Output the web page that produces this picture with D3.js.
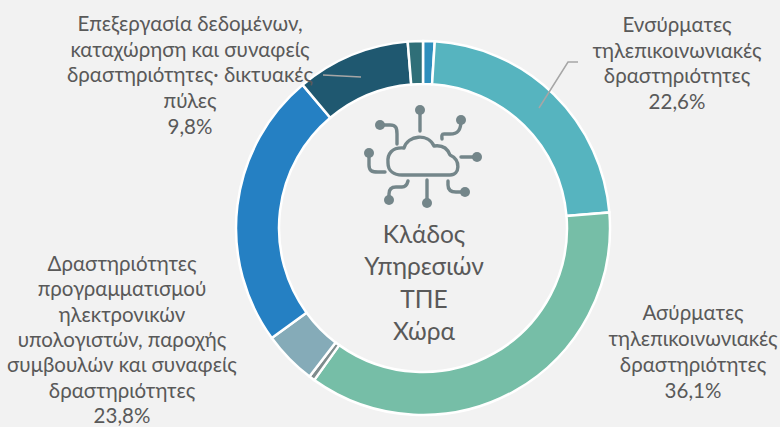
<!DOCTYPE html>
<html>
<head>
<meta charset="utf-8">
<script src="https://cdn.jsdelivr.net/npm/d3@7"></script>
<style>
  html, body { margin: 0; padding: 0; background: #f2f2f2; }
  svg { display: block; }
  text { font-family: Lato, "Open Sans", sans-serif; fill: #595959; font-size: 20.5px; }
</style>
</head>
<body>
<div id="chart"></div>
<script>
// slices in clockwise order from 12 o'clock (small ones are unlabelled in the picture)
var sectors = ["Μικρό 1", "Ενσύρματες", "Ασύρματες", "Μικρό 2", "Μικρό 3", "Δραστηριότητες προγραμματισμού", "Επεξεργασία δεδομένων", "Μικρό 4"];
var shares = [1.0, 22.6, 36.1, 0.5, 4.6, 23.8, 9.8, 1.3];
var colors = ["#2f8fbd", "#56b4bf", "#76bea7", "#7f8c8d", "#85abb8", "#2580c3", "#1f5870", "#2f6f78"];

var labelLines = [
    ["Ενσύρματες", "τηλεπικοινωνιακές", "δραστηριότητες", "22,6%"],
    ["Ασύρματες", "τηλεπικοινωνιακές", "δραστηριότητες", "36,1%"],
    ["Δραστηριότητες", "προγραμματισμού", "ηλεκτρονικών", "υπολογιστών, παροχής", "συμβουλών και συναφείς", "δραστηριότητες", "23,8%"],
    ["Επεξεργασία δεδομένων,", "καταχώρηση και συναφείς", "δραστηριότητες· δικτυακές", "πύλες", "9,8%"]
];
var labelPos = [[677, 32], [693, 320], [122, 271], [190, 31]];
var labelSpacing = [25.5, 26, 25.3, 25.7];
var centerLines = ["Κλάδος", "Υπηρεσιών", "ΤΠΕ", "Χώρα"];

var svgWidth = 780;
var svgHeight = 427;
var cx = 423;
var cy = 228;

var svg = d3.select("#chart")
    .append("svg")
    .attr("width", svgWidth)
    .attr("height", svgHeight);

var pie = d3.pie().sort(null).value(d => d);
var arc = d3.arc().innerRadius(144).outerRadius(187);

var chartGroup = svg.append("g")
    .attr("transform", `translate(${cx}, ${cy})`);

chartGroup.selectAll("path")
    .data(pie(shares))
    .enter()
    .append("path")
    .attr("d", arc)
    .attr("fill", (d, i) => colors[i])
    .attr("stroke", "#fff")
    .attr("stroke-width", 2.5);

// leader lines
var leaders = [
    [[323, 75], [361, 77]],
    [[539, 108], [568, 62], [578, 62]]
];
svg.selectAll(".leader")
    .data(leaders)
    .enter()
    .append("path")
    .attr("class", "leader")
    .attr("d", d3.line())
    .attr("fill", "none")
    .attr("stroke", "#a6a6a6")
    .attr("stroke-width", 1.5);

// labels
labelLines.forEach(function(lines, i) {
    var t = svg.append("text")
        .attr("text-anchor", "middle")
        .attr("x", labelPos[i][0])
        .attr("y", labelPos[i][1]);
    lines.forEach(function(line, j) {
        t.append("tspan")
            .attr("x", labelPos[i][0])
            .attr("dy", j == 0 ? 0 : labelSpacing[i])
            .text(line);
    });
});

// centre text
svg.selectAll(".center")
    .data(centerLines)
    .enter()
    .append("text")
    .attr("class", "center")
    .attr("text-anchor", "middle")
    .attr("x", 424)
    .attr("y", (d, i) => 243 + i * 32.4)
    .style("font-size", "24.5px")
    .text(d => d);

// cloud icon
var icon = svg.append("g")
    .attr("fill", "none")
    .attr("stroke", "#74868a")
    .attr("stroke-width", 3.4)
    .attr("stroke-linecap", "round")
    .attr("stroke-linejoin", "round");

icon.append("path")
    .attr("d", "M402 175 H450 C460 175 461 160 450 155 C447 147 441 145 434 146 C428 133 408 135 404 148 C392 147 387 154 388 163 C388 171 394 175 402 175 Z");

var wires = [
    "M420 110 V131",
    "M461 120 C461 130 458 134 450 134 H444 C441 134 442 137 442 139",
    "M380 125 H390 C396 125 397 128 397 134 V144",
    "M369 153 V165 C369 171 372 172 378 172 H385",
    "M477 157 H461",
    "M465 192 H456 C451 192 448 190 448 185 V181",
    "M427 203 V180",
    "M389 200 V194 C389 189 392 187 396 187 H402 C405 187 407 185 408 181"
];
icon.selectAll(".wire")
    .data(wires)
    .enter()
    .append("path")
    .attr("class", "wire")
    .attr("d", d => d);

var nodes = [[420, 110], [461, 120], [380, 125], [369, 153], [477, 157], [465, 192], [427, 203], [389, 200]];
icon.selectAll("circle")
    .data(nodes)
    .enter()
    .append("circle")
    .attr("cx", d => d[0])
    .attr("cy", d => d[1])
    .attr("r", 5)
    .attr("fill", "#74868a")
    .attr("stroke", "none");
</script>
</body>
</html>
